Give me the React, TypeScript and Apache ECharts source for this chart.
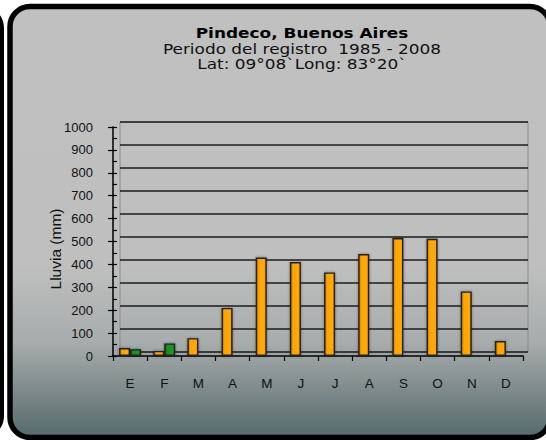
import React, { useEffect, useRef } from "react";
import * as echarts from "echarts";

const categories = ["E", "F", "M", "A", "M", "J", "J", "A", "S", "O", "N", "D"];
const seriesOrange = [35, 22, 78, 210, 430, 410, 365, 445, 515, 512, 282, 65];
const seriesGreen: (number | string)[] = [30, 55, "-", "-", "-", "-", "-", "-", "-", "-", "-", "-"];
const yTicks = { min: 0, max: 1000, interval: 100 };
const titleLines = [
  "Pindeco, Buenos Aires",
  "Periodo del registro  1985 - 2008",
  "Lat: 09°08`Long: 83°20`",
];
const yName = "Lluvia (mm)";

export default function App() {
  const ref = useRef<HTMLDivElement>(null);
  useEffect(() => {
    if (!ref.current) return;
    const chart = echarts.init(ref.current, undefined, { renderer: "svg" });
    const font = "Arial, 'Liberation Sans', sans-serif";
    const tfont = "'DejaVu Sans', Verdana, sans-serif";
    const orangeGrad = new echarts.graphic.LinearGradient(0, 0, 1, 0, [
      { offset: 0, color: "#c07400" },
      { offset: 0.25, color: "#ffa400" },
      { offset: 0.8, color: "#ffa90c" },
      { offset: 1, color: "#d98700" },
    ]);
    const greenGrad = new echarts.graphic.LinearGradient(0, 0, 1, 0, [
      { offset: 0, color: "#0b640b" },
      { offset: 0.25, color: "#1d8f1d" },
      { offset: 0.8, color: "#22952a" },
      { offset: 1, color: "#107010" },
    ]);
    const titleText = (text: string, y: number, bold: boolean) => ({
      type: "text",
      z: 100,
      x: 302,
      y,
      scaleX: 1.21,
      style: {
        text,
        font: (bold ? "bold " : "") + "14px " + tfont,
        fill: bold ? "#000" : "#111",
        align: "center",
        verticalAlign: "middle",
      },
    });
    chart.setOption({
      animation: false,
      graphic: [
        {
          type: "rect",
          z: -10,
          shape: { x: -60, y: 8, width: 62, height: 428, r: 20 },
          style: { fill: "none", stroke: "#000", lineWidth: 4 },
        },
        {
          type: "rect",
          z: -10,
          shape: { x: 10, y: 6.5, width: 540, height: 431, r: 20 },
          style: {
            fill: new echarts.graphic.LinearGradient(0, 0, 0, 1, [
              { offset: 0, color: "#c0c0c0" },
              { offset: 0.6, color: "#bfbfbf" },
              { offset: 0.78, color: "#a7acac" },
              { offset: 1, color: "#55696a" },
            ]),
            stroke: "#000",
            lineWidth: 5.5,
          },
        },
        titleText(titleLines[0], 33, true),
        titleText(titleLines[1], 49, false),
        titleText(titleLines[2], 64, false),
        {
          type: "text",
          z: 100,
          x: 55,
          y: 249,
          rotation: Math.PI / 2,
          style: {
            text: yName,
            font: "15.5px " + font,
            fill: "#111",
            align: "center",
            verticalAlign: "middle",
          },
        },
      ],
      grid: [
        {
          left: 120,
          right: 18,
          top: 122,
          bottom: 88,
          show: true,
          borderColor: "#8c8c8c",
          borderWidth: 1,
          backgroundColor: "transparent",
        },
        { left: 113, right: 23, top: 127, bottom: 84 },
      ],
      xAxis: [
        { type: "category", gridIndex: 0, data: categories, show: false },
        {
          type: "category",
          gridIndex: 1,
          data: categories,
          axisLine: { show: true, lineStyle: { color: "#000", width: 1.5 } },
          axisTick: { show: true, length: 5, lineStyle: { color: "#000", width: 1.2 } },
          axisLabel: { color: "#111", fontSize: 13.5, fontFamily: font, margin: 20 },
        },
      ],
      yAxis: [
        {
          type: "value",
          gridIndex: 0,
          ...yTicks,
          axisLine: { show: false },
          axisTick: { show: false },
          axisLabel: { show: false },
          splitLine: { show: true, lineStyle: { color: "#1c1c1c", width: 1.7 } },
        },
        {
          type: "value",
          gridIndex: 1,
          position: "left",
          ...yTicks,
          axisLine: { show: true, lineStyle: { color: "#000", width: 1.5 } },
          axisTick: { show: true, length: 5, lineStyle: { color: "#000", width: 1.2 } },
          axisLabel: {
            color: "#111",
            fontSize: 13,
            fontFamily: font,
            margin: 20,
            formatter: (v: number) => String(v),
          },
          splitLine: { show: false },
        },
        {
          type: "value",
          gridIndex: 1,
          position: "left",
          min: 0,
          max: 1000,
          interval: 50,
          axisLine: { show: false },
          axisTick: { show: true, inside: true, length: 4, lineStyle: { color: "#000", width: 1.2 } },
          axisLabel: { show: false },
          splitLine: { show: false },
        },
      ],
      series: [
        {
          type: "bar",
          xAxisIndex: 1,
          yAxisIndex: 1,
          data: seriesOrange,
          barWidth: 11,
          barGap: "0%",
          itemStyle: {
            color: orangeGrad,
            borderColor: "#222",
            borderWidth: 1.4,
            shadowColor: "rgba(0,0,0,0.4)",
            shadowBlur: 3,
          },
        },
        {
          type: "bar",
          xAxisIndex: 1,
          yAxisIndex: 1,
          data: seriesGreen,
          barWidth: 11,
          barGap: "0%",
          itemStyle: {
            color: greenGrad,
            borderColor: "#222",
            borderWidth: 1.4,
            shadowColor: "rgba(0,0,0,0.4)",
            shadowBlur: 3,
          },
        },
      ],
    });
    return () => chart.dispose();
  }, []);
  return (
    <div
      ref={ref}
      style={{ position: "fixed", left: 0, top: 0, width: 546, height: 440, background: "#fff" }}
    />
  );
}
